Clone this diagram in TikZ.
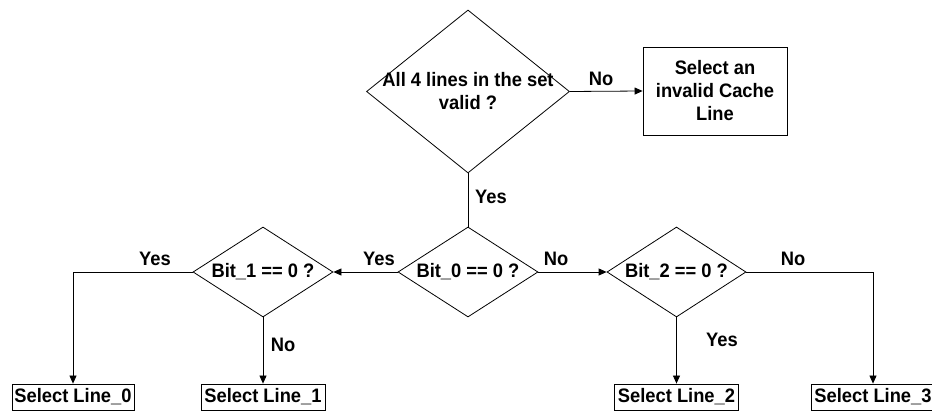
\documentclass[tikz,border=0pt]{standalone}
\usepackage{fontspec}
\setmainfont{Liberation Sans}[FakeStretch=0.94]
\usetikzlibrary{shapes.geometric,arrows.meta}
\begin{document}
\begin{tikzpicture}[x=1pt,y=-1pt,
  every node/.style={font=\bfseries\fontsize{19.5}{23}\selectfont},
  dec/.style={draw, line width=0.8pt, shape=diamond, inner sep=0pt},
  procbox/.style={draw, line width=0.8pt, inner sep=0pt, align=center},
  arr/.style={draw, line width=0.8pt, -{Triangle[length=8pt,width=7pt]}},
  lbl/.style={inner sep=0pt}]
\useasboundingbox (0,0) rectangle (932,411);
% decisions
\node[dec, minimum width=203pt, minimum height=163pt,
      label={[align=center,inner sep=0pt]center:All 4 lines in the set\\valid ?}] (q0) at (468,91.5) {};
\node[dec, minimum width=140pt, minimum height=90pt,
      label={[inner sep=0pt]center:Bit\_0 == 0 ?}] (b0) at (468,272) {};
\node[dec, minimum width=140pt, minimum height=90pt,
      label={[inner sep=0pt]center:Bit\_1 == 0 ?}] (b1) at (263,272) {};
\node[dec, minimum width=139pt, minimum height=90pt,
      label={[inner sep=0pt]center:Bit\_2 == 0 ?}] (b2) at (676.5,272) {};
% boxes
\node[procbox, minimum width=144pt, minimum height=88pt] (cache) at (715,91) {Select an\\invalid Cache\\Line};
\node[procbox, minimum width=122pt, minimum height=26pt] (s0) at (73,397) {Select Line\_0};
\node[procbox, minimum width=124pt, minimum height=26pt] (s1) at (263,397) {Select Line\_1};
\node[procbox, minimum width=124pt, minimum height=26pt] (s2) at (676.5,397) {Select Line\_2};
\node[procbox, minimum width=124pt, minimum height=26pt] (s3) at (873,397) {Select Line\_3};
% connectors
\draw[arr] (q0.east) -- (cache.west);
\draw[line width=0.8pt] (q0.south) -- (b0.north);
\draw[arr] (b0.west) -- (b1.east);
\draw[arr] (b0.east) -- (b2.west);
\draw[arr] (b1.west) -| (s0.north);
\draw[arr] (b1.south) -- (s1.north);
\draw[arr] (b2.south) -- (s2.north);
\draw[arr] (b2.east) -| (s3.north);
% labels
\node[lbl] (lno0) at (601,79) {No};
\node[lbl] (lyes0) at (491,197) {Yes};
\node[lbl] (lyes1) at (379,259) {Yes};
\node[lbl] (lno1) at (556,259) {No};
\node[lbl] (lyes2) at (155,259) {Yes};
\node[lbl] (lno2) at (283,345) {No};
\node[lbl] (lno3) at (793,259) {No};
\node[lbl] (lyes3) at (722,340) {Yes};
\end{tikzpicture}
\end{document}
